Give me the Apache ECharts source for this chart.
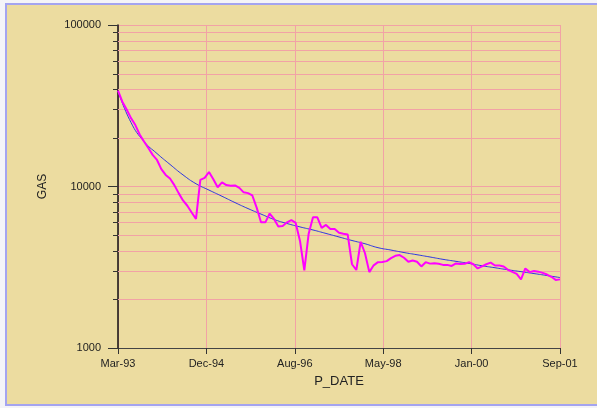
<!DOCTYPE html>
<html>
<head>
<meta charset="utf-8">
<script src="https://cdn.jsdelivr.net/npm/echarts@6/dist/echarts.min.js"></script>
<style>
  html, body { margin:0; padding:0; background:#f4f4f8; width:597px; height:408px; overflow:hidden; }
  #frame { position:absolute; left:5px; top:3px; width:640px; height:399px; border:2px solid #a4a4f0; background:#ECDCA0; }
  #chart { position:absolute; left:0; top:0; width:597px; height:408px; }
</style>
</head>
<body>
<div id="frame"></div>
<div id="chart"></div>
<script>
// x tick labels (evenly spaced over the month range Mar-93 .. Sep-01)
const xTickLabels = ["Mar-93", "Dec-94", "Aug-96", "May-98", "Jan-00", "Sep-01"];
// monthly GAS production, month 0 = Mar-93 ... month 102 = Sep-01
const gasValues = [
  39200, 33500, 30000, 26500, 24000, 21000, 19000, 17300, 15700, 14600,
  12800, 11800, 11200, 10200, 9100, 8200, 7600, 6900, 6300, 11000,
  11300, 12300, 11100, 9900, 10600, 10200, 10100, 10150, 9800, 9200,
  9100, 8800, 7400, 6000, 6000, 6800, 6300, 5650, 5700, 6000,
  6200, 5950, 4600, 3020, 5100, 6450, 6450, 5550, 5780, 5460,
  5450, 5170, 5100, 5050, 3300, 3040, 4550, 3860, 2950, 3250,
  3400, 3410, 3450, 3600, 3720, 3760, 3620, 3420, 3480, 3420,
  3200, 3400, 3330, 3350, 3320, 3270, 3270, 3220, 3340, 3310,
  3320, 3400, 3300, 3110, 3200, 3300, 3380, 3240, 3240, 3200,
  3050, 2960, 2880, 2660, 3110, 2950, 3000, 2970, 2920, 2850,
  2760, 2640, 2660
];
// decline-curve (blue) read every 3 months
const fitMonths = [0, 3, 6, 9, 12, 15, 18, 21, 24, 27, 30, 33, 36, 39, 42, 45, 48, 51, 54, 57, 60, 63, 66, 69, 72, 75, 78, 81, 84, 87, 90, 93, 96, 99, 102];
const fitValues = [39000, 24900, 19000, 16000, 13700, 11800, 10400, 9500, 8700, 7950, 7300, 6750, 6250, 5900, 5620, 5380, 5120, 4870, 4630, 4420, 4180, 4040, 3900, 3780, 3660, 3540, 3440, 3340, 3230, 3140, 3050, 2970, 2890, 2810, 2730];
// log minor grid values
const minorGridValues = [2000, 3000, 4000, 5000, 6000, 7000, 8000, 9000, 20000, 30000, 40000, 50000, 60000, 70000, 80000, 90000];

const monthSpan = 102;
const tickStep = monthSpan / (xTickLabels.length - 1);
const gridPink = '#F2A2A6';

const chart = echarts.init(document.getElementById('chart'), null, { renderer: 'canvas' });
chart.setOption({
  animation: false,
  backgroundColor: 'transparent',
  textStyle: { fontFamily: 'Liberation Sans, Arial, sans-serif' },
  grid: { left: 118, right: 37, top: 25, bottom: 60 },
  xAxis: {
    type: 'value', min: 0, max: monthSpan, interval: tickStep,
    name: 'P_DATE', nameLocation: 'middle', nameGap: 27,
    nameTextStyle: { fontSize: 13, color: '#222' },
    axisLine: { show: true, lineStyle: { color: '#444', width: 1 } },
    axisTick: { show: true, length: 6, lineStyle: { color: '#333' } },
    axisLabel: {
      margin: 10, fontSize: 11, color: '#222',
      formatter: function (v) { return xTickLabels[Math.round(v / tickStep)] || ''; }
    },
    splitLine: { show: true, lineStyle: { color: gridPink, width: 1 } }
  },
  yAxis: {
    type: 'log', logBase: 10, min: 1000, max: 100000,
    name: 'GAS', nameLocation: 'middle', nameGap: 69,
    nameTextStyle: { fontSize: 12, color: '#222' },
    axisLine: { show: true, lineStyle: { color: '#111', width: 1.5 } },
    axisTick: { show: true, length: 10, lineStyle: { color: '#333' } },
    axisLabel: {
      margin: 17, fontSize: 11, color: '#222',
      formatter: function (v) { return String(Math.round(v)); }
    },
    splitLine: { show: true, lineStyle: { color: gridPink, width: 1 } }
  },
  series: [
    {
      type: 'custom', silent: true, z: 1,
      data: minorGridValues.map(function (v) { return [0, v]; }),
      encode: { x: 0, y: 1 },
      renderItem: function (params, api) {
        const cs = params.coordSys;
        const p = api.coord([0, api.value(1)]);
        const y = Math.round(p[1]) + 0.5;
        return {
          type: 'group',
          children: [
            { type: 'line', shape: { x1: cs.x, y1: y, x2: cs.x + cs.width, y2: y }, style: { stroke: gridPink, lineWidth: 1 } },
            { type: 'line', shape: { x1: cs.x - 5, y1: y, x2: cs.x, y2: y }, style: { stroke: '#333', lineWidth: 1 } }
          ]
        };
      }
    },
    {
      type: 'line', z: 3,
      data: fitMonths.map(function (m, i) { return [m, fitValues[i]]; }),
      smooth: 0.5, showSymbol: false, symbol: 'none',
      lineStyle: { color: '#2E36E0', width: 1 }
    },
    {
      type: 'line', z: 4,
      data: gasValues.map(function (v, i) { return [i, v]; }),
      smooth: false, showSymbol: false, symbol: 'none',
      lineStyle: { color: '#FF00FF', width: 2 }
    }
  ]
});
</script>
</body>
</html>
